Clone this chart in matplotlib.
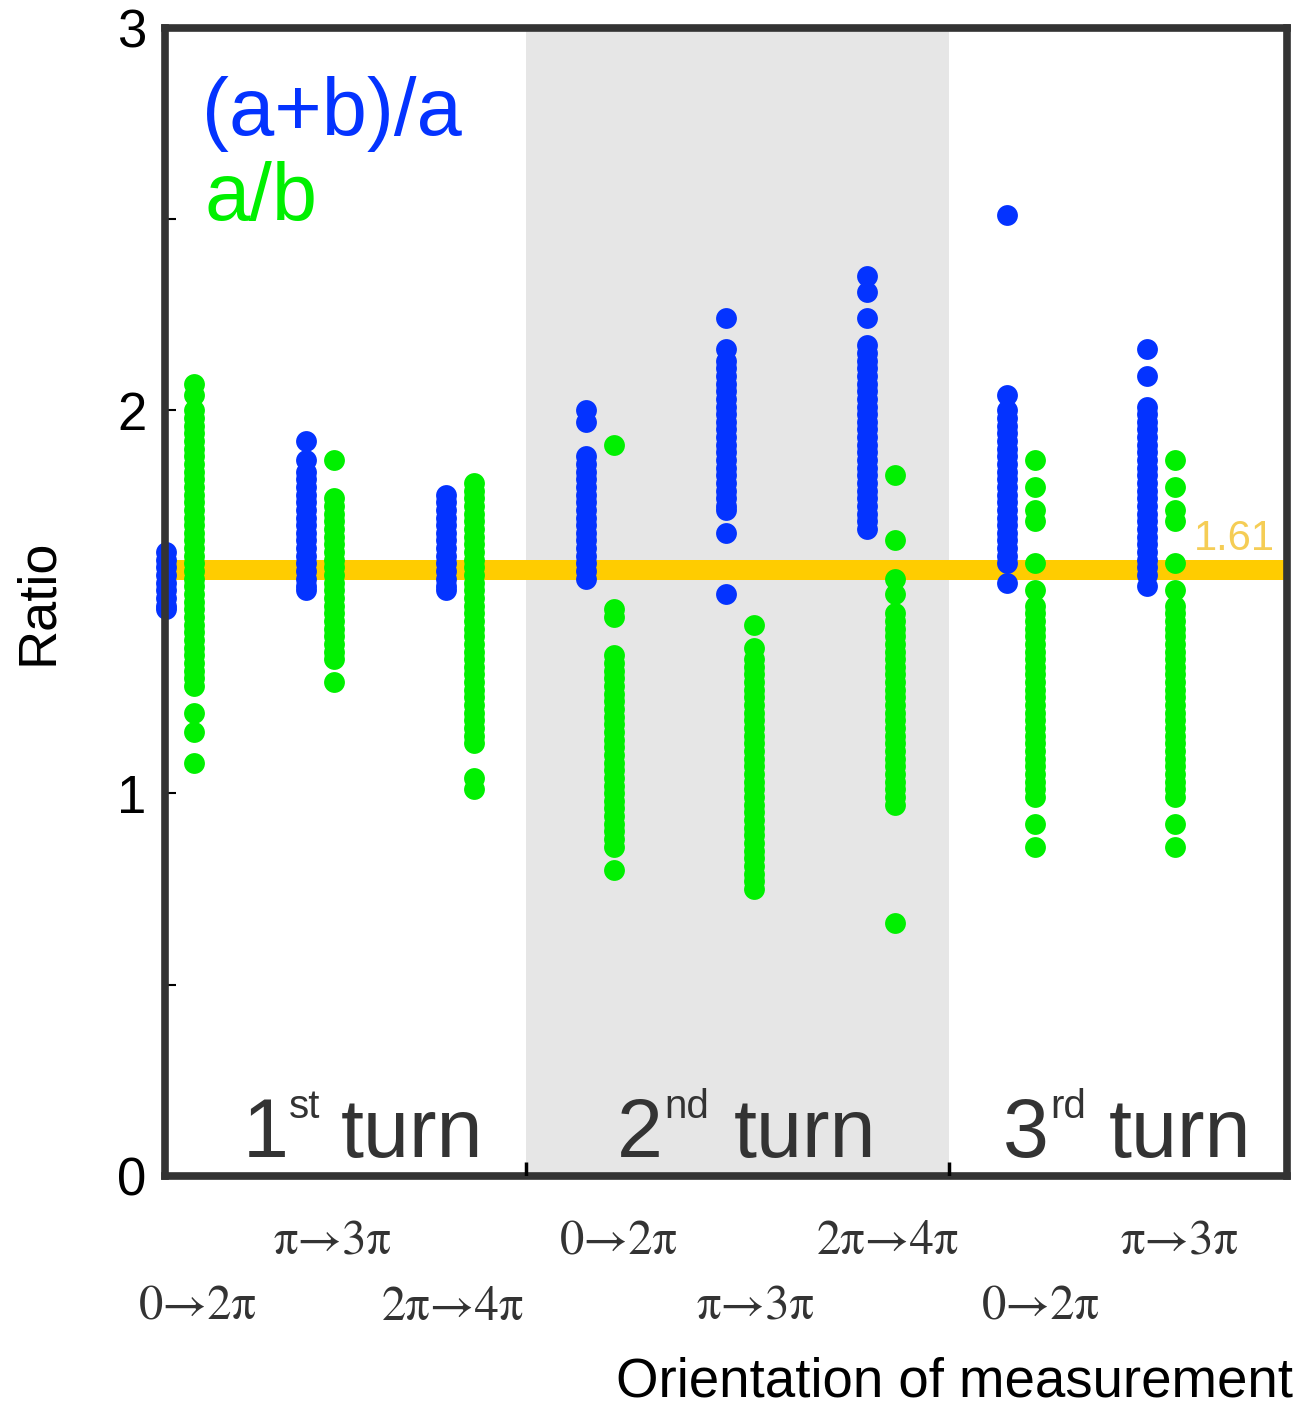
"""
plot.py — (a+b)/a と a/b の比を測定方向ごとに並べた散布図
"""
import matplotlib
matplotlib.use("Agg")
import matplotlib.pyplot as plt
from matplotlib.ticker import MultipleLocator

plt.rcParams["font.family"] = ["Liberation Sans", "DejaVu Sans"]

# ---------------------------------------------------------------------------
# データ
# ---------------------------------------------------------------------------
orientations = ["0→2π", "π→3π", "2π→4π",
                "0→2π", "π→3π", "2π→4π",
                "0→2π", "π→3π"]

# (a+b)/a  — 各測定方向の値
ratio_ab_a = [
    [1.63, 1.61, 1.59, 1.57, 1.55, 1.53, 1.51, 1.49, 1.48],
    [1.92, 1.87, 1.84, 1.82, 1.80, 1.78, 1.76, 1.74, 1.72, 1.70, 1.68, 1.66,
     1.64, 1.62, 1.60, 1.58, 1.56, 1.54, 1.53],
    [1.78, 1.76, 1.74, 1.72, 1.70, 1.68, 1.66, 1.64, 1.62, 1.60, 1.58, 1.56,
     1.54, 1.53],
    [2.00, 1.97, 1.88, 1.86, 1.84, 1.82, 1.80, 1.78, 1.76, 1.74, 1.72, 1.70,
     1.68, 1.66, 1.64, 1.62, 1.60, 1.58, 1.56],
    [2.24, 2.16, 2.13, 2.11, 2.09, 2.07, 2.05, 2.03, 2.01, 1.99, 1.97, 1.95,
     1.93, 1.91, 1.89, 1.87, 1.85, 1.83, 1.81, 1.79, 1.77, 1.75, 1.74, 1.68,
     1.52],
    [2.35, 2.31, 2.24, 2.17, 2.15, 2.13, 2.11, 2.09, 2.07, 2.05, 2.03, 2.01,
     1.99, 1.97, 1.95, 1.93, 1.91, 1.89, 1.87, 1.85, 1.83, 1.81, 1.79, 1.77,
     1.75, 1.73, 1.71, 1.69],
    [2.51, 2.04, 2.00, 1.98, 1.96, 1.94, 1.92, 1.90, 1.88, 1.86, 1.84, 1.82,
     1.80, 1.78, 1.76, 1.74, 1.72, 1.70, 1.68, 1.66, 1.64, 1.62, 1.60, 1.55],
    [2.16, 2.09, 2.01, 1.99, 1.97, 1.95, 1.93, 1.91, 1.89, 1.87, 1.85, 1.83,
     1.81, 1.79, 1.77, 1.75, 1.73, 1.71, 1.69, 1.67, 1.65, 1.63, 1.61, 1.59,
     1.57, 1.54],
]

# a/b — 各測定方向の値
ratio_a_b = [
    [2.07, 2.04, 2.00, 1.98, 1.96, 1.94, 1.92, 1.90, 1.88, 1.86, 1.84, 1.82,
     1.80, 1.78, 1.76, 1.74, 1.72, 1.70, 1.68, 1.66, 1.64, 1.62, 1.60, 1.58,
     1.56, 1.54, 1.52, 1.50, 1.48, 1.46, 1.44, 1.42, 1.40, 1.38, 1.36, 1.34,
     1.32, 1.30, 1.28, 1.21, 1.16, 1.08],
    [1.87, 1.77, 1.75, 1.73, 1.71, 1.69, 1.67, 1.65, 1.63, 1.61, 1.59, 1.57,
     1.55, 1.53, 1.51, 1.49, 1.47, 1.45, 1.43, 1.41, 1.39, 1.37, 1.35, 1.29],
    [1.81, 1.79, 1.77, 1.75, 1.73, 1.71, 1.69, 1.67, 1.65, 1.63, 1.61, 1.59,
     1.57, 1.55, 1.53, 1.51, 1.49, 1.47, 1.45, 1.43, 1.41, 1.39, 1.37, 1.35,
     1.33, 1.31, 1.29, 1.27, 1.25, 1.23, 1.21, 1.19, 1.17, 1.15, 1.13, 1.04,
     1.01],
    [1.91, 1.48, 1.46, 1.36, 1.34, 1.32, 1.30, 1.28, 1.26, 1.24, 1.22, 1.20,
     1.18, 1.16, 1.14, 1.12, 1.10, 1.08, 1.06, 1.04, 1.02, 1.00, 0.98, 0.96,
     0.94, 0.92, 0.90, 0.88, 0.86, 0.80],
    [1.44, 1.38, 1.35, 1.33, 1.31, 1.29, 1.27, 1.25, 1.23, 1.21, 1.19, 1.17,
     1.15, 1.13, 1.11, 1.09, 1.07, 1.05, 1.03, 1.01, 0.99, 0.97, 0.95, 0.93,
     0.91, 0.89, 0.87, 0.85, 0.83, 0.81, 0.79, 0.77, 0.75],
    [1.83, 1.66, 1.56, 1.52, 1.47, 1.45, 1.43, 1.41, 1.39, 1.37, 1.35, 1.33,
     1.31, 1.29, 1.27, 1.25, 1.23, 1.21, 1.19, 1.17, 1.15, 1.13, 1.11, 1.09,
     1.07, 1.05, 1.03, 1.01, 0.99, 0.97, 0.66],
    [1.87, 1.80, 1.74, 1.71, 1.60, 1.53, 1.49, 1.47, 1.45, 1.43, 1.41, 1.39,
     1.37, 1.35, 1.33, 1.31, 1.29, 1.27, 1.25, 1.23, 1.21, 1.19, 1.17, 1.15,
     1.13, 1.11, 1.09, 1.07, 1.05, 1.03, 1.01, 0.99, 0.92, 0.86],
    [1.87, 1.80, 1.74, 1.71, 1.60, 1.53, 1.49, 1.47, 1.45, 1.43, 1.41, 1.39,
     1.37, 1.35, 1.33, 1.31, 1.29, 1.27, 1.25, 1.23, 1.21, 1.19, 1.17, 1.15,
     1.13, 1.11, 1.09, 1.07, 1.05, 1.03, 1.01, 0.99, 0.92, 0.86],
]

golden_label = "1.61"
golden_line_y = 1.583
turn_edges = [2.57, 5.59]          # 2nd turn の範囲 (x データ座標)
turn_numbers = ["1", "2", "3"]
turn_suffixes = ["st", "nd", "rd"]

# ---------------------------------------------------------------------------
# スタイル
# ---------------------------------------------------------------------------
BLUE = "#0433FF"
GREEN = "#00F000"
GOLD = "#FFCC00"
GOLD_TEXT = "#F5CD55"
DARK = "#333333"
GREEN_OFFSET = 0.2
LABEL_SHIFT = [0.03, -0.01, -0.15, 0.03, 0.01, -0.05, 0.04, 0.03]

fig = plt.figure(figsize=(13.14, 14.09), dpi=100)
W, H = 1314, 1409
ax = fig.add_axes([164.5 / W, 1 - 1176 / H, 1122.5 / W, 1148.5 / H])

ax.axvspan(turn_edges[0], turn_edges[1], color="#E6E6E6", zorder=0, lw=0)
ax.axhline(golden_line_y, color=GOLD, lw=14.4, zorder=1)

for i, (blue_vals, green_vals) in enumerate(zip(ratio_ab_a, ratio_a_b)):
    ax.scatter([i] * len(blue_vals), blue_vals, s=225, color=BLUE,
               linewidths=0, zorder=2.2, clip_on=False)
    ax.scatter([i + GREEN_OFFSET] * len(green_vals), green_vals, s=225,
               color=GREEN, linewidths=0, zorder=2.2, clip_on=False)

ax.set_xlim(-0.01, 8.0)
ax.set_ylim(0, 3)

for sp in ax.spines.values():
    sp.set_linewidth(5.5)
    sp.set_color(DARK)

# y 軸
ax.set_yticks([0, 1, 2, 3])
ax.yaxis.set_minor_locator(MultipleLocator(0.5))
ax.tick_params(axis="y", which="both", direction="in", length=8, width=1.5,
               color="black", labelsize=38, pad=13)
ax.set_ylabel("Ratio", fontsize=39)
ax.yaxis.set_label_coords(-0.090, 0.5)

# x 軸 (2 段の目盛ラベル)
pos = [i + GREEN_OFFSET + d for i, d in enumerate(LABEL_SHIFT)]
ax.set_xticks(pos[0::2], orientations[0::2])
ax.set_xticks(pos[1::2], orientations[1::2], minor=True)
ax.tick_params(axis="x", which="both", length=0, labelsize=35,
               labelcolor=DARK, labelfontfamily="STIXGeneral")
ax.tick_params(axis="x", which="major", pad=79)
ax.tick_params(axis="x", which="minor", pad=32)
ax.set_xlabel("Orientation of measurement", fontsize=39.3, loc="right")
ax.xaxis.set_label_coords(1.005, -0.157)

# turn の区切り
ax.vlines(turn_edges, 0, 0.012, transform=ax.get_xaxis_transform(),
          color="black", lw=2.5, zorder=3)

# 凡例テキスト
ax.text(0.0334, 0.9064, "(a+b)/a", color=BLUE, fontsize=58.5,
        transform=ax.transAxes)
ax.text(0.036, 0.8324, "a/b", color=GREEN, fontsize=58.5,
        transform=ax.transAxes)

# 黄金比ラベル
ax.text(7.336, 1.635, golden_label, color=GOLD_TEXT, fontsize=30)

# turn ラベル
turn_num_x = [0.55, 3.22, 5.97]
turn_sup_x = [0.875, 3.56, 6.31]
turn_word_x = [1.25, 4.05, 6.73]
for k in range(3):
    ax.text(turn_num_x[k], 0.05, turn_numbers[k], color=DARK, fontsize=59.5)
    ax.text(turn_sup_x[k], 0.152, turn_suffixes[k], color=DARK, fontsize=29)
    ax.text(turn_word_x[k], 0.05, "turn", color=DARK, fontsize=59.5)

fig.savefig("out.png", dpi=100)
